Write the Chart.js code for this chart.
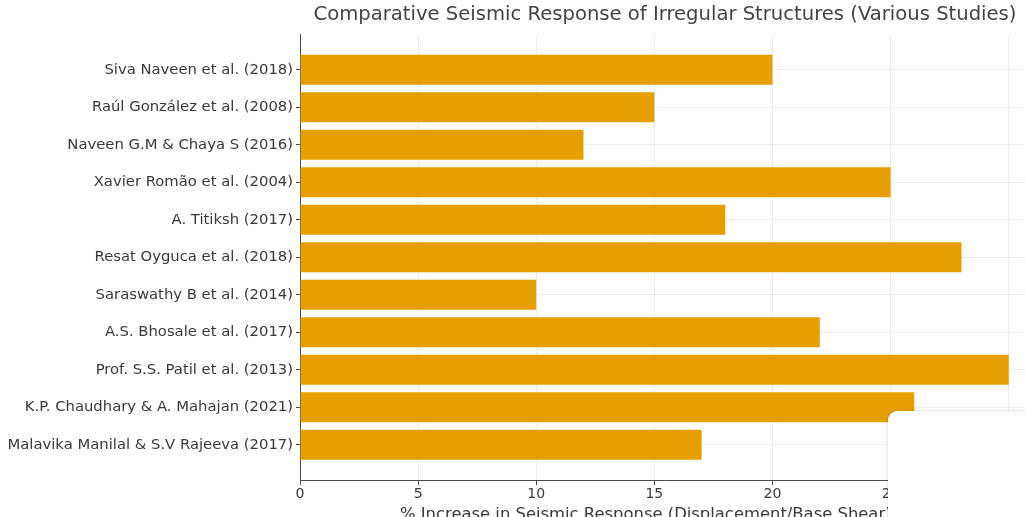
<!DOCTYPE html>
<html>
<head>
<meta charset="utf-8">
<script src="https://cdn.jsdelivr.net/npm/chart.js@4.4.1/dist/chart.umd.min.js"></script>
<style>
  html, body { margin: 0; padding: 0; background: #fff; overflow: hidden; width: 1025px; height: 517px; }
  #wrap { position: relative; width: 1060px; height: 530px; }
  canvas { display: block; }
  /* plain corner panel laid over the lower right */
  #panel { position: absolute; left: 888px; top: 411px; width: 200px; height: 140px; background: #fff;
           border-top-left-radius: 9px; box-shadow: -1px -1px 2px rgba(0,0,0,0.10); }
</style>
</head>
<body>
<div id="wrap">
  <canvas id="chart" width="1060" height="530"></canvas>
  <div id="panel"></div>
</div>
<script>
// Studies, listed top to bottom
const studies = [
  'Siva Naveen et al. (2018)',
  'Raúl González et al. (2008)',
  'Naveen G.M & Chaya S (2016)',
  'Xavier Romão et al. (2004)',
  'A. Titiksh (2017)',
  'Resat Oyguca et al. (2018)',
  'Saraswathy B et al. (2014)',
  'A.S. Bhosale et al. (2017)',
  'Prof. S.S. Patil et al. (2013)',
  'K.P. Chaudhary & A. Mahajan (2021)',
  'Malavika Manilal & S.V Rajeeva (2017)'
];

// % increase in seismic response for each study
const increase = [20, 15, 12, 25, 18, 28, 10, 22, 30, 26, 17];

const xTicks = [0, 5, 10, 15, 20, 25, 30];

const chartTitle = 'Comparative Seismic Response of Irregular Structures (Various Studies)';
const xTitle = '% Increase in Seismic Response (Displacement/Base Shear)';

const FONT = '"DejaVu Sans", sans-serif';
const BAR = '#E69F00';
const GRID = '#ececec';
const AXIS = '#4a4a4a';
const TEXT = '#3a3a3a';

// axis title drawn under the tick labels
const xTitlePlugin = {
  id: 'xTitle',
  afterDraw(chart) {
    const { ctx, chartArea } = chart;
    ctx.save();
    ctx.font = '16.4px ' + FONT;
    ctx.fillStyle = TEXT;
    ctx.textAlign = 'left';
    ctx.textBaseline = 'top';
    ctx.fillText(xTitle, chartArea.left + 100, chartArea.bottom + 27);
    ctx.restore();
  }
};

new Chart(document.getElementById('chart'), {
  type: 'bar',
  data: {
    datasets: [{
      data: increase.map((v, i) => ({ x: v, y: i })),
      backgroundColor: BAR,
      borderWidth: 0,
      barPercentage: 0.8,
      categoryPercentage: 1.0
    }]
  },
  options: {
    indexAxis: 'y',
    responsive: false,
    animation: false,
    devicePixelRatio: 1,
    layout: { padding: { left: 0, right: 30, top: 0, bottom: 0 } },
    plugins: {
      legend: { display: false },
      tooltip: { enabled: false },
      title: {
        display: true,
        text: chartTitle,
        fullSize: false,
        color: '#444',
        font: { family: FONT, size: 19.6, weight: 'normal' },
        padding: { top: 3, bottom: 8 }
      }
    },
    scales: {
      x: {
        type: 'linear',
        min: 0,
        max: 30.9,
        afterBuildTicks: s => { s.ticks = xTicks.map(v => ({ value: v })); },
        afterFit: s => { s.height = 50; },
        grid: { color: GRID, tickColor: AXIS, tickLength: 5, drawTicks: true },
        border: { display: true, color: AXIS, width: 1 },
        ticks: { color: TEXT, padding: 1, font: { family: FONT, size: 14 } }
      },
      y: {
        type: 'linear',
        reverse: true,
        offset: false,
        min: -0.94,
        max: studies.length - 1 + 0.94,
        afterBuildTicks: s => { s.ticks = studies.map((_, i) => ({ value: i })); },
        afterFit: s => { s.width = 300; },
        grid: { offset: false, color: GRID, tickColor: AXIS, tickLength: 4, drawTicks: true },
        border: { display: true, color: AXIS, width: 1 },
        ticks: {
          color: TEXT,
          padding: 3,
          autoSkip: false,
          font: { family: FONT, size: 14.8 },
          callback: v => studies[v]
        }
      }
    }
  },
  plugins: [xTitlePlugin]
});
</script>
</body>
</html>
